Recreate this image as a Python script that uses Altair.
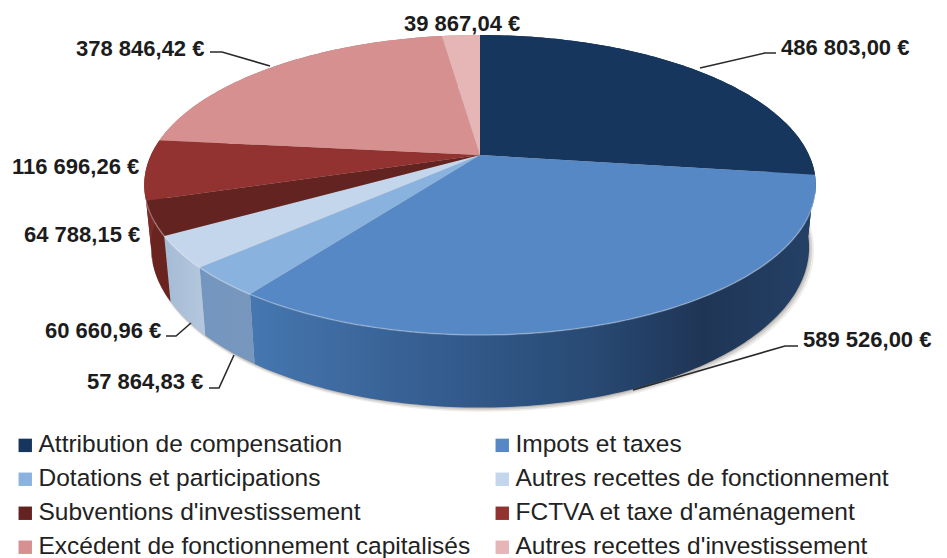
import math
import altair as alt

names = ["Attribution de compensation", "Impots et taxes", "Dotations et participations",
         "Autres recettes de fonctionnement", "Subventions d'investissement",
         "FCTVA et taxe d'aménagement", "Excédent de fonctionnement capitalisés",
         "Autres recettes d'investissement"]
values = [486803.00, 589526.00, 57864.83, 60660.96, 64788.15, 116696.26, 378846.42, 39867.04]
labels = ["486 803,00 €", "589 526,00 €", "57 864,83 €", "60 660,96 €", "64 788,15 €",
          "116 696,26 €", "378 846,42 €", "39 867,04 €"]
top_colors = ["#17365d", "#5688c6", "#8ab2df", "#c3d6ec", "#632321", "#933331", "#d69090", "#e5b6b5"]
wall_stops = [
    [(0, "#17365d"), (1, "#17365d")],
    [(0, "#4677b0"), (0.3, "#365f92"), (0.6, "#284a74"), (0.8, "#1f3556"), (1, "#244166")],
    [(0, "#7396c0"), (1, "#7897bd")],
    [(0, "#a5bbd5"), (1, "#b4c7dd")],
    [(0, "#6a2420"), (1, "#6a2420")],
    [(0, "#7a2a28"), (1, "#7a2a28")],
    [(0, "#b07070"), (1, "#b07070")],
    [(0, "#c09090"), (1, "#c09090")],
]
label_x = [781, 803, 87, 45, 24, 12, 76, 404]
label_y = [48, 340, 382, 331, 235, 167, 49, 24]
leaders = [
    [[700, 68], [765, 53], [776, 53]],
    [[633, 390], [785, 346], [798, 346]],
    [[234, 355], [219, 388], [209, 388]],
    [[191, 323], [176, 336], [166, 336]],
    [[270, 66], [222, 52], [210, 52]],
]

CX, CY, A, B, K = 480, 155, 329, 144, 0.2
LOW_X, LOW_Y, LOW_D = 0.98, 1.07, 60


def rim(deg):
    t = math.radians(deg)
    u, v = math.sin(t), -math.cos(t)
    d = 1 - K * v
    return A * u / d, B * v / d


def up(deg):
    x, y = rim(deg)
    return [CX + x, CY + y]


def low(deg, dx=0, dy=0, grow=1.0):
    x, y = rim(deg)
    return [CX + x * LOW_X * grow + dx, CY + y * LOW_Y * grow + LOW_D + dy]


def arc(a0, a1):
    n = max(2, int(abs(a1 - a0)) + 1)
    return [a0 + (a1 - a0) * i / n for i in range(n + 1)]


def feature(kind, coords, name):
    return {"type": "Feature", "properties": {"name": name},
            "geometry": {"type": kind, "coordinates": coords}}


total = sum(values)
edges = [0.0]
for val in values:
    edges.append(edges[-1] + val / total * 360)

PROJ = dict(type="identity", scale=1, translate=[-8, -8])
layers = []

# soft shadow under the base
for dx, dy, grow, op in [(3, 3, 1.006, 0.10), (2, 2, 1.003, 0.16), (1, 1, 1.0, 0.22)]:
    ring = [low(a, dx, dy, grow) for a in arc(0, 360)]
    layers.append(alt.Chart(alt.Data(values=[feature("Polygon", [ring], "s")]))
                  .mark_geoshape(fill="#5a4a40", fillOpacity=op, stroke=None).project(**PROJ))

# walls, back to front handled by the top faces painted afterwards
for i, name in enumerate(names):
    angles = arc(edges[i], edges[i + 1])
    ring = [up(a) for a in angles] + [low(a) for a in reversed(angles)]
    ring.append(ring[0])
    grad = alt.Gradient(gradient="linear", x1=0, x2=1, y1=0, y2=0,
                        stops=[alt.GradientStop(offset=o, color=c) for o, c in wall_stops[i]])
    layers.append(alt.Chart(alt.Data(values=[feature("Polygon", [ring], name)]))
                  .mark_geoshape(fill=grad, stroke=None).project(**PROJ))

# top faces, with the legend
faces = []
for i, name in enumerate(names):
    ring = [[CX, CY]] + [up(a) for a in arc(edges[i], edges[i + 1])] + [[CX, CY]]
    faces.append(feature("Polygon", [ring], name))
layers.append(
    alt.Chart(alt.Data(values=faces)).mark_geoshape(stroke=None).encode(
        color=alt.Color("properties.name:N",
                        scale=alt.Scale(domain=names, range=top_colors),
                        legend=alt.Legend(
                            title=None, orient="none", legendX=5, legendY=425, columns=2,
                            direction="horizontal",
                            symbolType="square", symbolSize=180, symbolStrokeWidth=0,
                            labelFont="Liberation Sans", labelFontSize=24.5, labelColor="#222222",
                            labelLimit=480, labelOffset=1, rowPadding=9, columnPadding=19,
                            symbolOffset=0, padding=0))
    ).project(**PROJ))

# light edge along the front rim
edge_line = [up(a) for a in arc(105, edges[5])]
layers.append(alt.Chart(alt.Data(values=[feature("LineString", edge_line, "e")]))
              .mark_geoshape(filled=False, stroke="#ffffff", strokeOpacity=0.3, strokeWidth=1.5)
              .project(**PROJ))

# leader lines
layers.append(alt.Chart(alt.Data(values=[feature("LineString", l, "l") for l in leaders]))
              .mark_geoshape(filled=False, stroke="#2a2a2a", strokeWidth=1.6).project(**PROJ))

# value labels
rows = [{"t": t, "x": x - 8, "y": y - 8} for t, x, y in zip(labels, label_x, label_y)]
layers.append(alt.Chart(alt.Data(values=rows)).mark_text(
    font="Liberation Sans", fontWeight="bold", fontSize=22, color="#1c1c1c",
    align="left", baseline="middle").encode(
        x=alt.X("x:Q", scale=None), y=alt.Y("y:Q", scale=None), text="t:N"))

chart = alt.layer(*layers).properties(
    width=931, height=550, padding=0, background="#ffffff",
    autosize=alt.AutoSizeParams(type="none")
).configure_view(stroke=None)

chart.save("out.html", embed_options={"renderer": "svg", "actions": False})
